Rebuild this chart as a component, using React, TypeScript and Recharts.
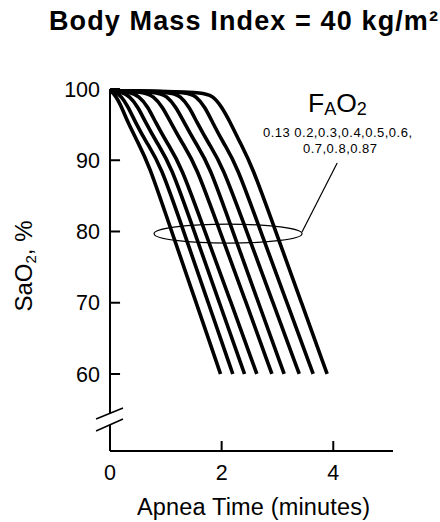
import React from 'react';
import { LineChart, Line, XAxis, YAxis, ReferenceLine, ReferenceDot } from 'recharts';

// FAO2 levels (one curve each)
const fao2Levels = ['0.13', '0.2', '0.3', '0.4', '0.5', '0.6', '0.7', '0.8', '0.87'];

// [apnea time (min), SaO2 (%)]
const curve013 = [[0, 99.8], [0.1, 99.1], [0.2, 97.6], [0.32, 95.3], [0.5, 92.5], [0.7, 89.3], [1.0, 82.4], [1.5, 71.0], [1.98, 60]];
const curve02 = [[0, 99.8], [0.1, 99.6], [0.2, 99.0], [0.32, 97.6], [0.45, 95.4], [0.65, 92.5], [0.9, 89.5], [1.32, 80], [1.76, 70], [2.2, 60]];
const curve03 = [[0, 99.8], [0.2, 99.6], [0.35, 99.0], [0.5, 97.5], [0.63, 95.4], [0.85, 92.3], [1.08, 89.5], [1.51, 80], [1.96, 70], [2.41, 60]];
const curve04 = [[0, 99.8], [0.35, 99.6], [0.52, 99.0], [0.68, 97.5], [0.81, 95.4], [1.03, 92.3], [1.26, 89.5], [1.7, 80], [2.17, 70], [2.63, 60]];
const curve05 = [[0, 99.8], [0.6, 99.6], [0.78, 99.0], [0.94, 97.5], [1.08, 95.4], [1.3, 92.3], [1.53, 89.5], [1.97, 80], [2.44, 70], [2.9, 60]];
const curve06 = [[0, 99.8], [0.85, 99.6], [1.02, 99.0], [1.18, 97.5], [1.32, 95.4], [1.54, 92.3], [1.77, 89.5], [2.2, 80], [2.66, 70], [3.12, 60]];
const curve07 = [[0, 99.8], [1.1, 99.6], [1.26, 99.0], [1.42, 97.5], [1.55, 95.4], [1.77, 92.3], [2.0, 89.5], [2.45, 80], [2.92, 70], [3.39, 60]];
const curve08 = [[0, 99.8], [1.38, 99.6], [1.54, 99.0], [1.7, 97.5], [1.83, 95.4], [2.04, 92.3], [2.26, 89.5], [2.7, 80], [3.17, 70], [3.64, 60]];
const curve087 = [[0, 99.8], [1.65, 99.6], [1.85, 99.0], [2.0, 97.5], [2.15, 95.4], [2.34, 92.3], [2.53, 89.5], [2.97, 80], [3.43, 70], [3.89, 60]];

const curves = [curve013, curve02, curve03, curve04, curve05, curve06, curve07, curve08, curve087];

// axes
const xTicks = [0, 2, 4];
const yTicks = [60, 70, 80, 90, 100];
const xDomain = [0, 5.07];
const yDomain = [49.19, 100];

// annotation anchors (data units)
const ellipseCenter = { t: 2.115, s: 79.7 };
const leader = [{ x: 3.44, y: 79.93 }, { x: 4.07, y: 89.6 }];
const axisBreak = { upper: 54.53, lower: 52.84 };
const breakMarks = [
  [{ x: -0.25, y: 53.68 }, { x: 0.233, y: 55.23 }],
  [{ x: -0.25, y: 52.0 }, { x: 0.233, y: 53.68 }],
];

const FONT = '"Liberation Sans", Arial, Helvetica, sans-serif';
const INK = '#000';

const EllipseShape = (p: any) => (
  <ellipse cx={p.cx} cy={p.cy} rx={74} ry={9.5} fill="none" stroke={INK} strokeWidth={1.2} />
);

export default function App() {
  const seriesData = curves.map((c) => c.map(([t, s]) => ({ t, s })));
  return (
    <div style={{ position: 'absolute', left: 0, top: 0, width: 440, height: 522, background: '#fff' }}>
      <LineChart
        width={440}
        height={522}
        margin={{ top: 89, right: 47, left: 0, bottom: 0 }}
        style={{ fontFamily: FONT }}
      >
        <XAxis
          dataKey="t"
          type="number"
          domain={xDomain}
          ticks={xTicks}
          allowDataOverflow
          height={71}
          tickLine={false}
          tickSize={0}
          tickMargin={14}
          axisLine={{ stroke: INK, strokeWidth: 2 }}
          tick={{ fill: INK, fontSize: 21.5, fontFamily: FONT }}
        />
        <YAxis
          dataKey="s"
          type="number"
          domain={yDomain}
          ticks={yTicks}
          allowDataOverflow
          width={110}
          axisLine={false}
          tickLine={false}
          tickSize={0}
          tickMargin={10}
          tick={{ fill: INK, fontSize: 21.5, fontFamily: FONT }}
        />
        {/* y axis line with a break */}
        <ReferenceLine segment={[{ x: 0, y: 100 }, { x: 0, y: axisBreak.upper }]} stroke={INK} strokeWidth={2} ifOverflow="visible" />
        <ReferenceLine segment={[{ x: 0, y: axisBreak.lower }, { x: 0, y: yDomain[0] }]} stroke={INK} strokeWidth={2} ifOverflow="visible" />
        {breakMarks.map((seg, i) => (
          <ReferenceLine key={'b' + i} segment={seg} stroke={INK} strokeWidth={1.5} ifOverflow="visible" />
        ))}
        {/* inward tick marks */}
        {yTicks.map((v) => (
          <ReferenceLine key={'yt' + v} segment={[{ x: 0, y: v }, { x: 0.18, y: v }]} stroke={INK} strokeWidth={2} ifOverflow="visible" />
        ))}
        {xTicks.filter((v) => v > 0).map((v) => (
          <ReferenceLine key={'xt' + v} segment={[{ x: v, y: yDomain[0] }, { x: v, y: yDomain[0] + 1.4 }]} stroke={INK} strokeWidth={2} ifOverflow="visible" />
        ))}
        <ReferenceDot x={ellipseCenter.t} y={ellipseCenter.s} shape={EllipseShape} ifOverflow="visible" />
        <ReferenceLine segment={leader} stroke={INK} strokeWidth={1.2} ifOverflow="visible" />
        {seriesData.map((d, i) => (
          <Line
            key={fao2Levels[i]}
            data={d}
            dataKey="s"
            name={fao2Levels[i]}
            type="basis"
            stroke={INK}
            strokeWidth={3.6}
            dot={false}
            activeDot={false}
            isAnimationActive={false}
          />
        ))}
      </LineChart>
      <svg width={440} height={522} style={{ position: 'absolute', left: 0, top: 0, pointerEvents: 'none' }}>
        <text x={49} y={30} fontFamily={FONT} fontWeight="bold" fontSize={27} fill={INK} textLength={389} lengthAdjust="spacing">
          Body Mass Index = 40 kg/m²
        </text>
        <text transform="translate(31.5,266) rotate(-90)" textAnchor="middle" fontFamily={FONT} fontSize={24} fill={INK}>
          SaO<tspan fontSize={15} dy={4}>2</tspan><tspan dy={-4}>, %</tspan>
        </text>
        <text x={137} y={515} fontFamily={FONT} fontSize={23.5} fill={INK} textLength={233} lengthAdjust="spacing">
          Apnea Time (minutes)
        </text>
        <text x={308} y={112} fontFamily={FONT} fontSize={26.5} fill={INK}>
          F<tspan fontSize={18} dy={3}>A</tspan><tspan dy={-3}>O</tspan><tspan fontSize={18} dy={3}>2</tspan>
        </text>
        <text x={263} y={137} fontFamily={FONT} fontSize={13} fill={INK} textLength={149} lengthAdjust="spacing">
          0.13 0.2,0.3,0.4,0.5,0.6,
        </text>
        <text x={303} y={152.5} fontFamily={FONT} fontSize={13} fill={INK} textLength={74} lengthAdjust="spacing">
          0.7,0.8,0.87
        </text>
      </svg>
    </div>
  );
}
